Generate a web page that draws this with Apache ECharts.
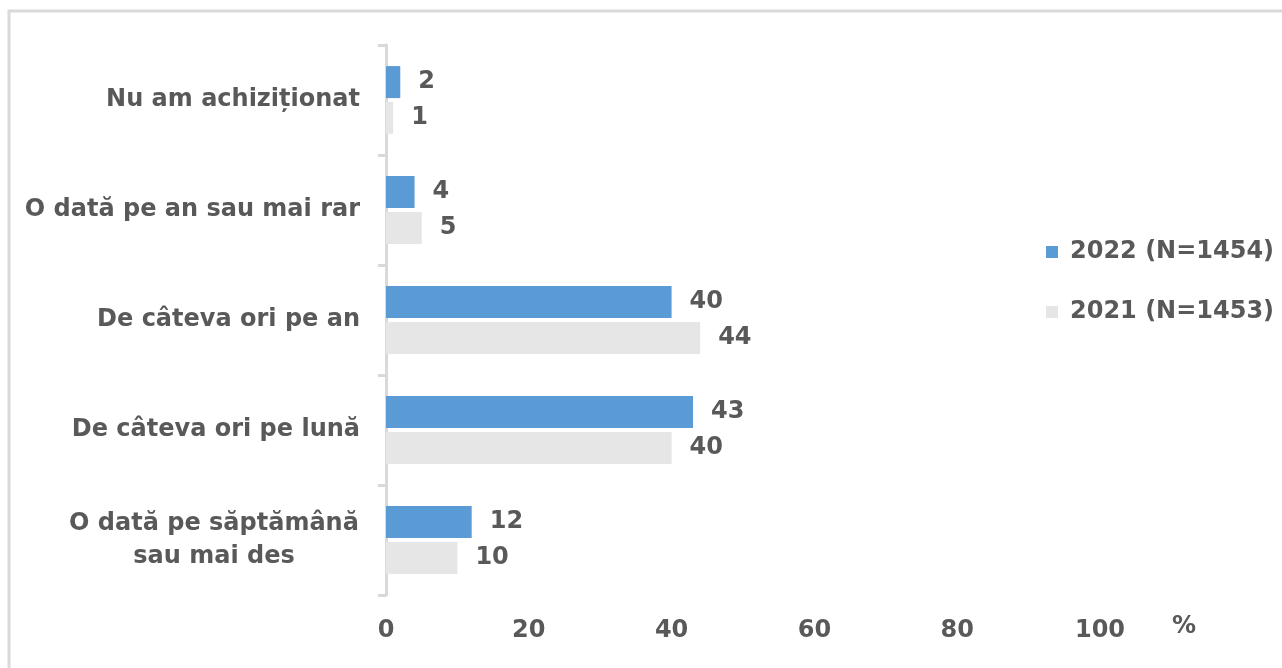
<!DOCTYPE html>
<html>
<head>
<meta charset="utf-8">
<script src="https://cdn.jsdelivr.net/npm/echarts@6/dist/echarts.min.js"></script>
<style>
html,body{margin:0;padding:0;background:#fff;}
#c{width:1282px;height:668px;}
</style>
</head>
<body>
<div id="c"></div>
<script>
var categories = [
  'Nu am achiziționat',
  'O dată pe an sau mai rar',
  'De câteva ori pe an',
  'De câteva ori pe lună',
  'O dată pe săptămână\nsau mai des'
];
var seriesNames = ['2022 (N=1454)', '2021 (N=1453)'];
var values2022 = [2, 4, 40, 43, 12];
var values2021 = [1, 5, 44, 40, 10];
var xTicks = [0, 20, 40, 60, 80, 100];
var unitLabel = '%';

var FONT = 'DejaVu Sans';
var TXT = '#595959';
var FS = 24;
var chart = echarts.init(document.getElementById('c'));
var labelStyle = {
  show: true, position: 'right', distance: 18,
  fontFamily: FONT, fontWeight: 'bold', fontSize: FS, color: TXT
};
chart.setOption({
  animation: false,
  backgroundColor: '#fff',
  grid: { left: 386, top: 45, width: 714, height: 550, containLabel: false },
  legend: {
    orient: 'vertical', left: 1041, top: 232, itemGap: 30,
    icon: 'rect', itemWidth: 12, itemHeight: 12,
    data: seriesNames,
    textStyle: { fontFamily: FONT, fontWeight: 'bold', fontSize: FS, color: TXT, lineHeight: 30, padding: [0,0,0,7] }
  },
  xAxis: {
    type: 'value', min: xTicks[0], max: xTicks[xTicks.length-1], interval: 20,
    axisLine: { show: false }, axisTick: { show: false }, splitLine: { show: false },
    axisLabel: { margin: 24, fontFamily: FONT, fontWeight: 'bold', fontSize: FS, color: TXT }
  },
  yAxis: {
    type: 'category', inverse: true, data: categories,
    axisLine: { show: true, lineStyle: { color: '#D9D9D9', width: 3 } },
    axisTick: { show: true, length: 8, lineStyle: { color: '#D9D9D9', width: 3 } },
    axisLabel: {
      margin: 26, fontFamily: FONT, fontWeight: 'bold', fontSize: FS, color: TXT,
      formatter: function (v) {
        if (v.indexOf('\n') >= 0) {
          return v.split('\n').map(function (s) { return '{c|' + s + '}'; }).join('\n');
        }
        return v;
      },
      rich: { c: { width: 292, align: 'center', fontFamily: FONT, fontWeight: 'bold', fontSize: FS, color: TXT, lineHeight: 33 } }
    }
  },
  series: [
    { name: seriesNames[0], type: 'bar', data: values2022, barWidth: 32, barGap: '12%',
      itemStyle: { color: '#5B9BD5' }, label: labelStyle, z: 1 },
    { name: seriesNames[1], type: 'bar', data: values2021, barWidth: 32, barGap: '12%',
      itemStyle: { color: '#E7E6E6' }, label: labelStyle, z: 1 }
  ],
  graphic: [
    { type: 'rect', silent: true, z: -10, shape: { x: 9, y: 11, width: 1400, height: 800 },
      style: { fill: 'none', stroke: '#D9D9D9', lineWidth: 3 } },
    { type: 'text', left: 1172, top: 615, style: { text: unitLabel, fontFamily: FONT, fontWeight: 'bold', fontSize: FS, fill: TXT } }
  ]
});
</script>
</body>
</html>
